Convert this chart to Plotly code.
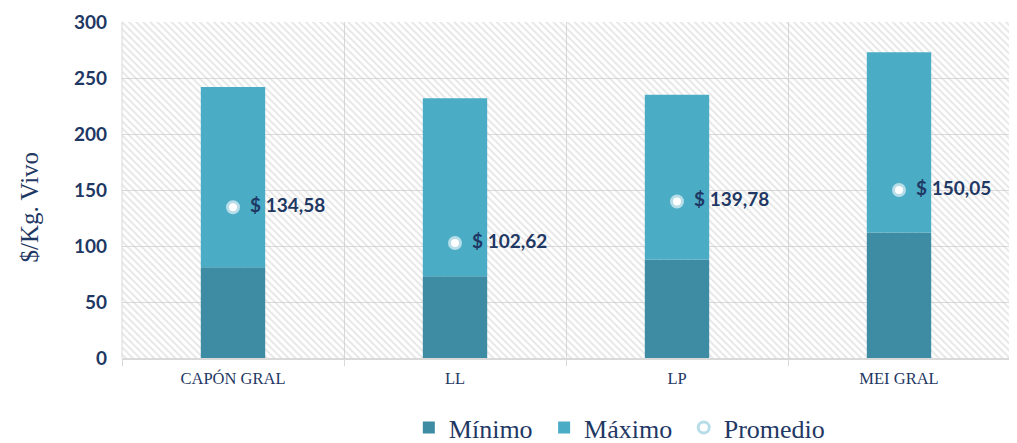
import plotly.graph_objects as go

categories = ["CAPÓN GRAL", "LL", "LP", "MEI GRAL"]
minimo = [81, 73, 88, 112]
maximo = [242, 232, 235, 273]
promedio = [134.58, 102.62, 139.78, 150.05]
promedio_labels = ["$ 134,58", "$ 102,62", "$ 139,78", "$ 150,05"]
y_ticks = [0, 50, 100, 150, 200, 250, 300]
y_title = "$/Kg. Vivo"

NAVY = "#1f3864"
SERIF = "Liberation Serif, Times New Roman, serif"
y_max = y_ticks[-1]

fig = go.Figure()

# hatched background
fig.add_trace(go.Bar(
    x=categories, y=[y_max] * len(categories), width=1,
    marker=dict(color="rgba(0,0,0,0)", line=dict(width=0),
                pattern=dict(shape="\\", fgcolor="#cccccc", bgcolor="rgba(0,0,0,0)",
                             size=5, solidity=0.35)),
    showlegend=False, hoverinfo="skip",
))

fig.add_trace(go.Bar(
    name="Mínimo\u00a0", x=categories, y=minimo, width=0.29,
    marker=dict(color="#3d8ca3", line=dict(width=0)),
))
fig.add_trace(go.Bar(
    name="Máximo\u00a0", x=categories, y=[mx - mn for mx, mn in zip(maximo, minimo)],
    base=minimo, width=0.29,
    marker=dict(color="#4bacc6", line=dict(width=0)),
))
fig.add_trace(go.Scatter(
    name="Promedio", x=categories, y=promedio, mode="markers+text",
    text=["  " + t for t in promedio_labels], textposition="middle right",
    textfont=dict(family="Lato", size=19, color=NAVY, weight="bold"),
    marker=dict(size=11, color="white", line=dict(color="#b7dde8", width=3)),
))

# the page body adds an 8px offset; figure is sized to fit the 1017x443 window
fig.update_layout(
    width=1009, height=435,
    margin=dict(l=114, r=7, t=14, b=85, autoexpand=False),
    barmode="overlay",
    plot_bgcolor="white", paper_bgcolor="white",
    legend=dict(orientation="h", x=0.323, xanchor="left", y=-0.207, yanchor="middle",
                font=dict(family=SERIF, size=26, color=NAVY),
                itemwidth=30, tracegroupgap=0),
    showlegend=True,
)
fig.update_xaxes(
    type="category", tickson="boundaries", showgrid=True, gridcolor="#d9d9d9",
    gridwidth=1, showline=True, linecolor="#d9d9d9", linewidth=2,
    ticks="outside", ticklen=6, tickcolor="#d9d9d9",
    tickfont=dict(family=SERIF, size=16.5, color=NAVY), ticklabelstandoff=4,
    mirror=False, range=[-0.5, 3.5], automargin=False,
)
fig.update_yaxes(
    range=[0, y_max], tickvals=y_ticks, showgrid=True, gridcolor="#d9d9d9",
    gridwidth=1, zeroline=False, showline=False,
    tickfont=dict(family="Lato", size=19, color=NAVY, weight="bold"),
    ticklabelstandoff=14, automargin=False,
)
fig.add_annotation(
    text=y_title, xref="paper", yref="paper", x=-0.104, y=0.45,
    xanchor="center", yanchor="middle", textangle=-90, showarrow=False,
    font=dict(family=SERIF, size=25, color=NAVY),
)
fig.add_shape(type="line", xref="paper", yref="paper", x0=1, x1=1, y0=0, y1=1,
              line=dict(color="#d9d9d9", width=1))
fig.add_shape(type="line", xref="paper", yref="paper", x0=0, x1=0, y0=0, y1=1,
              line=dict(color="#d9d9d9", width=1))

fig.write_html("out.html")
